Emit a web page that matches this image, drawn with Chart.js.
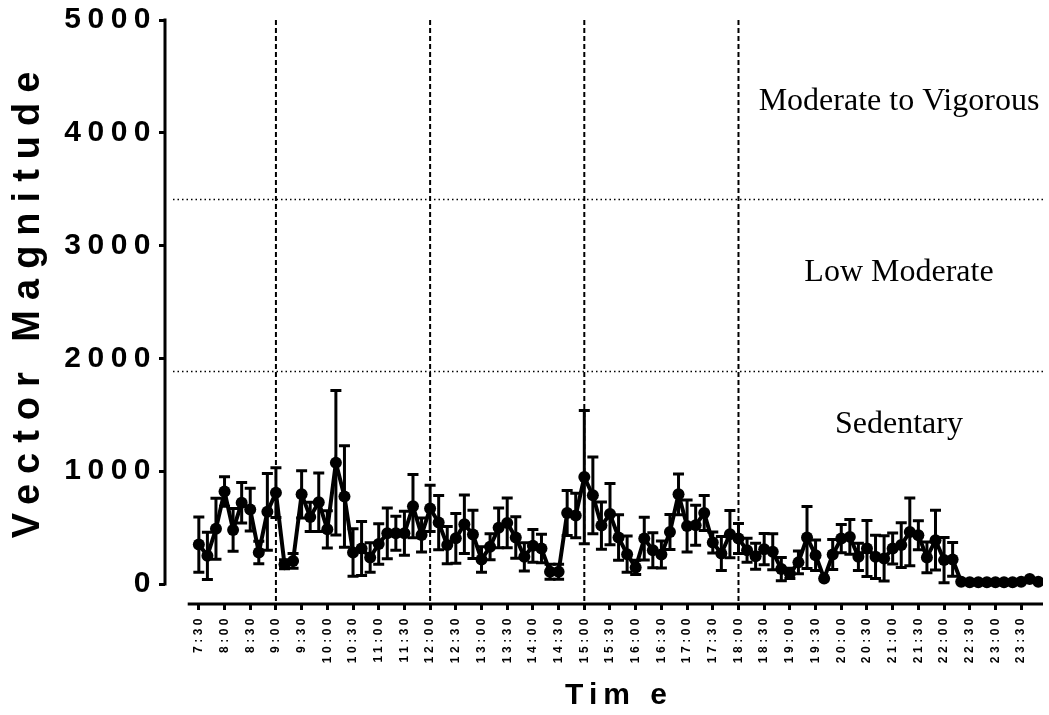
<!DOCTYPE html>
<html>
<head>
<meta charset="utf-8">
<script src="https://cdn.jsdelivr.net/npm/chart.js@4/dist/chart.umd.min.js"></script>
<style>
    html, body { margin: 0; padding: 0; background: #fff; }
</style>
</head>
<body>
<canvas id="grafico" width="1049" height="715"></canvas>
<script>
// =========================
// DADOS
// =========================

const times = [
    '7:30', '7:40', '7:50',
    '8:00', '8:10', '8:20', '8:30', '8:40', '8:50',
    '9:00', '9:10', '9:20', '9:30', '9:40', '9:50',
    '10:00', '10:10', '10:20', '10:30', '10:40', '10:50',
    '11:00', '11:10', '11:20', '11:30', '11:40', '11:50',
    '12:00', '12:10', '12:20', '12:30', '12:40', '12:50',
    '13:00', '13:10', '13:20', '13:30', '13:40', '13:50',
    '14:00', '14:10', '14:20', '14:30', '14:40', '14:50',
    '15:00', '15:10', '15:20', '15:30', '15:40', '15:50',
    '16:00', '16:10', '16:20', '16:30', '16:40', '16:50',
    '17:00', '17:10', '17:20', '17:30', '17:40', '17:50',
    '18:00', '18:10', '18:20', '18:30', '18:40', '18:50',
    '19:00', '19:10', '19:20', '19:30', '19:40', '19:50',
    '20:00', '20:10', '20:20', '20:30', '20:40', '20:50',
    '21:00', '21:10', '21:20', '21:30', '21:40', '21:50',
    '22:00', '22:10', '22:20', '22:30', '22:40', '22:50',
    '23:00', '23:10', '23:20', '23:30', '23:40', '23:50'
];

const meanVM = [
    350, 250, 490,
    820, 480, 720, 660, 280, 640,
    810, 175, 205, 795, 595, 725,
    485, 1075, 775, 280, 315, 235,
    355, 450, 450, 450, 690, 435,
    670, 545, 345, 405, 530, 440,
    218, 330, 498, 542, 412, 241,
    339, 315, 109, 109, 630, 607,
    948, 786, 518, 620, 412, 265,
    147, 403, 300, 262, 462, 795,
    515, 521, 630, 368, 271, 442,
    403, 300, 247, 309, 286, 133,
    94, 192, 412, 256, 50, 262,
    403, 418, 241, 315, 241, 227,
    315, 345, 462, 433, 236, 389,
    212, 218, 20, 15, 15, 15,
    15, 15, 15, 20, 45, 20
];

const sdVM = [
    245, 210, 270,
    130, 190, 180, 190, 100, 340,
    220, 40, 65, 210, 130, 260,
    165, 640, 450, 210, 240, 130,
    180, 225, 150, 195, 280, 150,
    205, 240, 165, 220, 260, 213,
    113, 115, 176, 220, 184, 125,
    145, 127, 67, 67, 200, 197,
    590, 340, 210, 272, 202, 160,
    63, 190, 155, 120, 155, 180,
    230, 178, 155, 93, 150, 210,
    133, 106, 115, 138, 159, 103,
    45, 100, 275, 135, 0, 133,
    125, 155, 120, 248, 192, 200,
    138, 198, 300, 128, 137, 265,
    200, 150, 0, 0, 0, 0,
    0, 0, 0, 0, 0, 0
];

const tickTimes = [
    '7:30', '8:00', '8:30', '9:00', '9:30', '10:00', '10:30', '11:00', '11:30',
    '12:00', '12:30', '13:00', '13:30', '14:00', '14:30', '15:00', '15:30',
    '16:00', '16:30', '17:00', '17:30', '18:00', '18:30', '19:00', '19:30',
    '20:00', '20:30', '21:00', '21:30', '22:00', '22:30', '23:00', '23:30'
];

const yTicks = [0, 1000, 2000, 3000, 4000, 5000];

const dividers = ['9:00', '12:00', '15:00', '18:00'];

const zoneCuts = [1890, 3410];

const zoneNames = ['Sedentary', 'Low Moderate', 'Moderate to Vigorous'];

// =========================
// DESENHOS EXTRA
// =========================

const sansBold = 'bold {s}px "Liberation Sans", Arial, sans-serif';

const extras = {
    id: 'extras',

    beforeDraw(chart) {
        // espaçamento dos números do eixo Y
        chart.ctx.letterSpacing = '6.5px';
    },

    beforeDatasetsDraw(chart) {
        const c = chart.ctx;
        const { left, right, top, bottom } = chart.chartArea;
        const xs = chart.scales.x;
        const ys = chart.scales.y;

        c.save();
        c.letterSpacing = '0px';
        c.strokeStyle = '#000';

        // limites das zonas
        c.lineWidth = 1.5;
        c.setLineDash([1.5, 3]);
        zoneCuts.forEach(v => {
            const y = Math.round(ys.getPixelForValue(v)) + 0.5;
            c.beginPath();
            c.moveTo(left + 8, y);
            c.lineTo(right, y);
            c.stroke();
        });

        // divisões do dia
        c.lineWidth = 2;
        c.setLineDash([5, 3]);
        dividers.forEach(t => {
            const x = xs.getPixelForValue(times.indexOf(t));
            c.beginPath();
            c.moveTo(x, top);
            c.lineTo(x, bottom);
            c.stroke();
        });

        // barras de erro
        c.setLineDash([]);
        c.lineWidth = 3;
        meanVM.forEach((m, i) => {
            const s = sdVM[i];
            if (!s) return;
            const x = xs.getPixelForValue(i);
            const y1 = ys.getPixelForValue(m + s);
            const y2 = ys.getPixelForValue(m - s);
            c.beginPath();
            c.moveTo(x, y1);
            c.lineTo(x, y2);
            c.moveTo(x - 5.5, y1);
            c.lineTo(x + 5.5, y1);
            c.moveTo(x - 5.5, y2);
            c.lineTo(x + 5.5, y2);
            c.stroke();
        });

        c.restore();
    },

    afterDatasetsDraw(chart) {
        // espaçamento dos horários do eixo X
        chart.ctx.letterSpacing = '3.5px';
    },

    afterDraw(chart) {
        const c = chart.ctx;
        const { left, right, bottom } = chart.chartArea;
        const xs = chart.scales.x;
        const ys = chart.scales.y;

        c.save();
        c.letterSpacing = '0px';
        c.strokeStyle = '#000';
        c.fillStyle = '#000';
        c.lineWidth = 3;
        c.setLineDash([]);

        // eixos
        c.beginPath();
        c.moveTo(left, ys.getPixelForValue(0) + 1.5);
        c.lineTo(left, ys.getPixelForValue(5000) - 1.5);
        c.stroke();

        c.beginPath();
        c.moveTo(xs.getPixelForValue(-1.3), bottom);
        c.lineTo(right, bottom);
        c.stroke();

        // títulos
        c.textAlign = 'center';
        c.textBaseline = 'middle';

        c.save();
        c.font = sansBold.replace('{s}', 38);
        c.letterSpacing = '10px';
        c.translate(29, 300);
        c.rotate(-Math.PI / 2);
        c.fillText('Vector Magnitude', 0, 0);
        c.restore();

        c.save();
        c.font = sansBold.replace('{s}', 30);
        c.letterSpacing = '6px';
        c.fillText('Tim e', 619, 696);
        c.restore();

        // nomes das zonas
        c.font = '32px "Liberation Serif", "Times New Roman", serif';
        const cx = right - 144;
        const zoneY = [1410, 2760, 4280];
        zoneNames.forEach((n, i) => {
            c.fillText(n, cx, ys.getPixelForValue(zoneY[i]));
        });

        c.restore();
        c.letterSpacing = '0px';
    }
};

// =========================
// GRÁFICO
// =========================

const chart = new Chart(
    document.getElementById('grafico'),
    {
        type: 'line',
        data: {
            datasets: [{
                label: 'Vector Magnitude',
                data: meanVM.map((v, i) => ({ x: i, y: v })),
                borderColor: '#000',
                backgroundColor: '#000',
                borderWidth: 4,
                pointRadius: 6,
                pointBackgroundColor: '#000',
                pointBorderWidth: 0,
                tension: 0
            }]
        },
        options: {
            responsive: false,
            animation: false,
            devicePixelRatio: 1,
            layout: {
                padding: { top: 18, right: 3, left: 0, bottom: 0 }
            },
            plugins: {
                legend: { display: false },
                tooltip: { enabled: false }
            },
            scales: {
                x: {
                    type: 'linear',
                    min: -3.95,
                    max: 98.55,
                    border: { display: false },
                    grid: {
                        drawOnChartArea: false,
                        tickLength: 6,
                        lineWidth: 3,
                        color: '#000'
                    },
                    afterBuildTicks: s => {
                        s.ticks = tickTimes.map(t => ({ value: times.indexOf(t) }));
                    },
                    afterFit: s => { s.height = 111; },
                    ticks: {
                        autoSkip: false,
                        minRotation: 90,
                        maxRotation: 90,
                        padding: 5,
                        z: 1,
                        color: '#000',
                        font: { family: '"Liberation Sans", Arial, sans-serif', weight: 'bold', size: 12 },
                        callback: v => times[v]
                    }
                },
                y: {
                    min: -177,
                    max: 5000,
                    border: { display: false },
                    grid: {
                        drawOnChartArea: false,
                        tickLength: 6,
                        lineWidth: 3,
                        color: '#000'
                    },
                    afterBuildTicks: s => {
                        s.ticks = yTicks.map(v => ({ value: v }));
                    },
                    afterFit: s => { s.width = 165; },
                    ticks: {
                        padding: 2,
                        color: '#000',
                        font: { family: '"Liberation Sans", Arial, sans-serif', weight: 'bold', size: 30 },
                        callback: v => String(v)
                    }
                }
            }
        },
        plugins: [extras]
    }
);
</script>
</body>
</html>
